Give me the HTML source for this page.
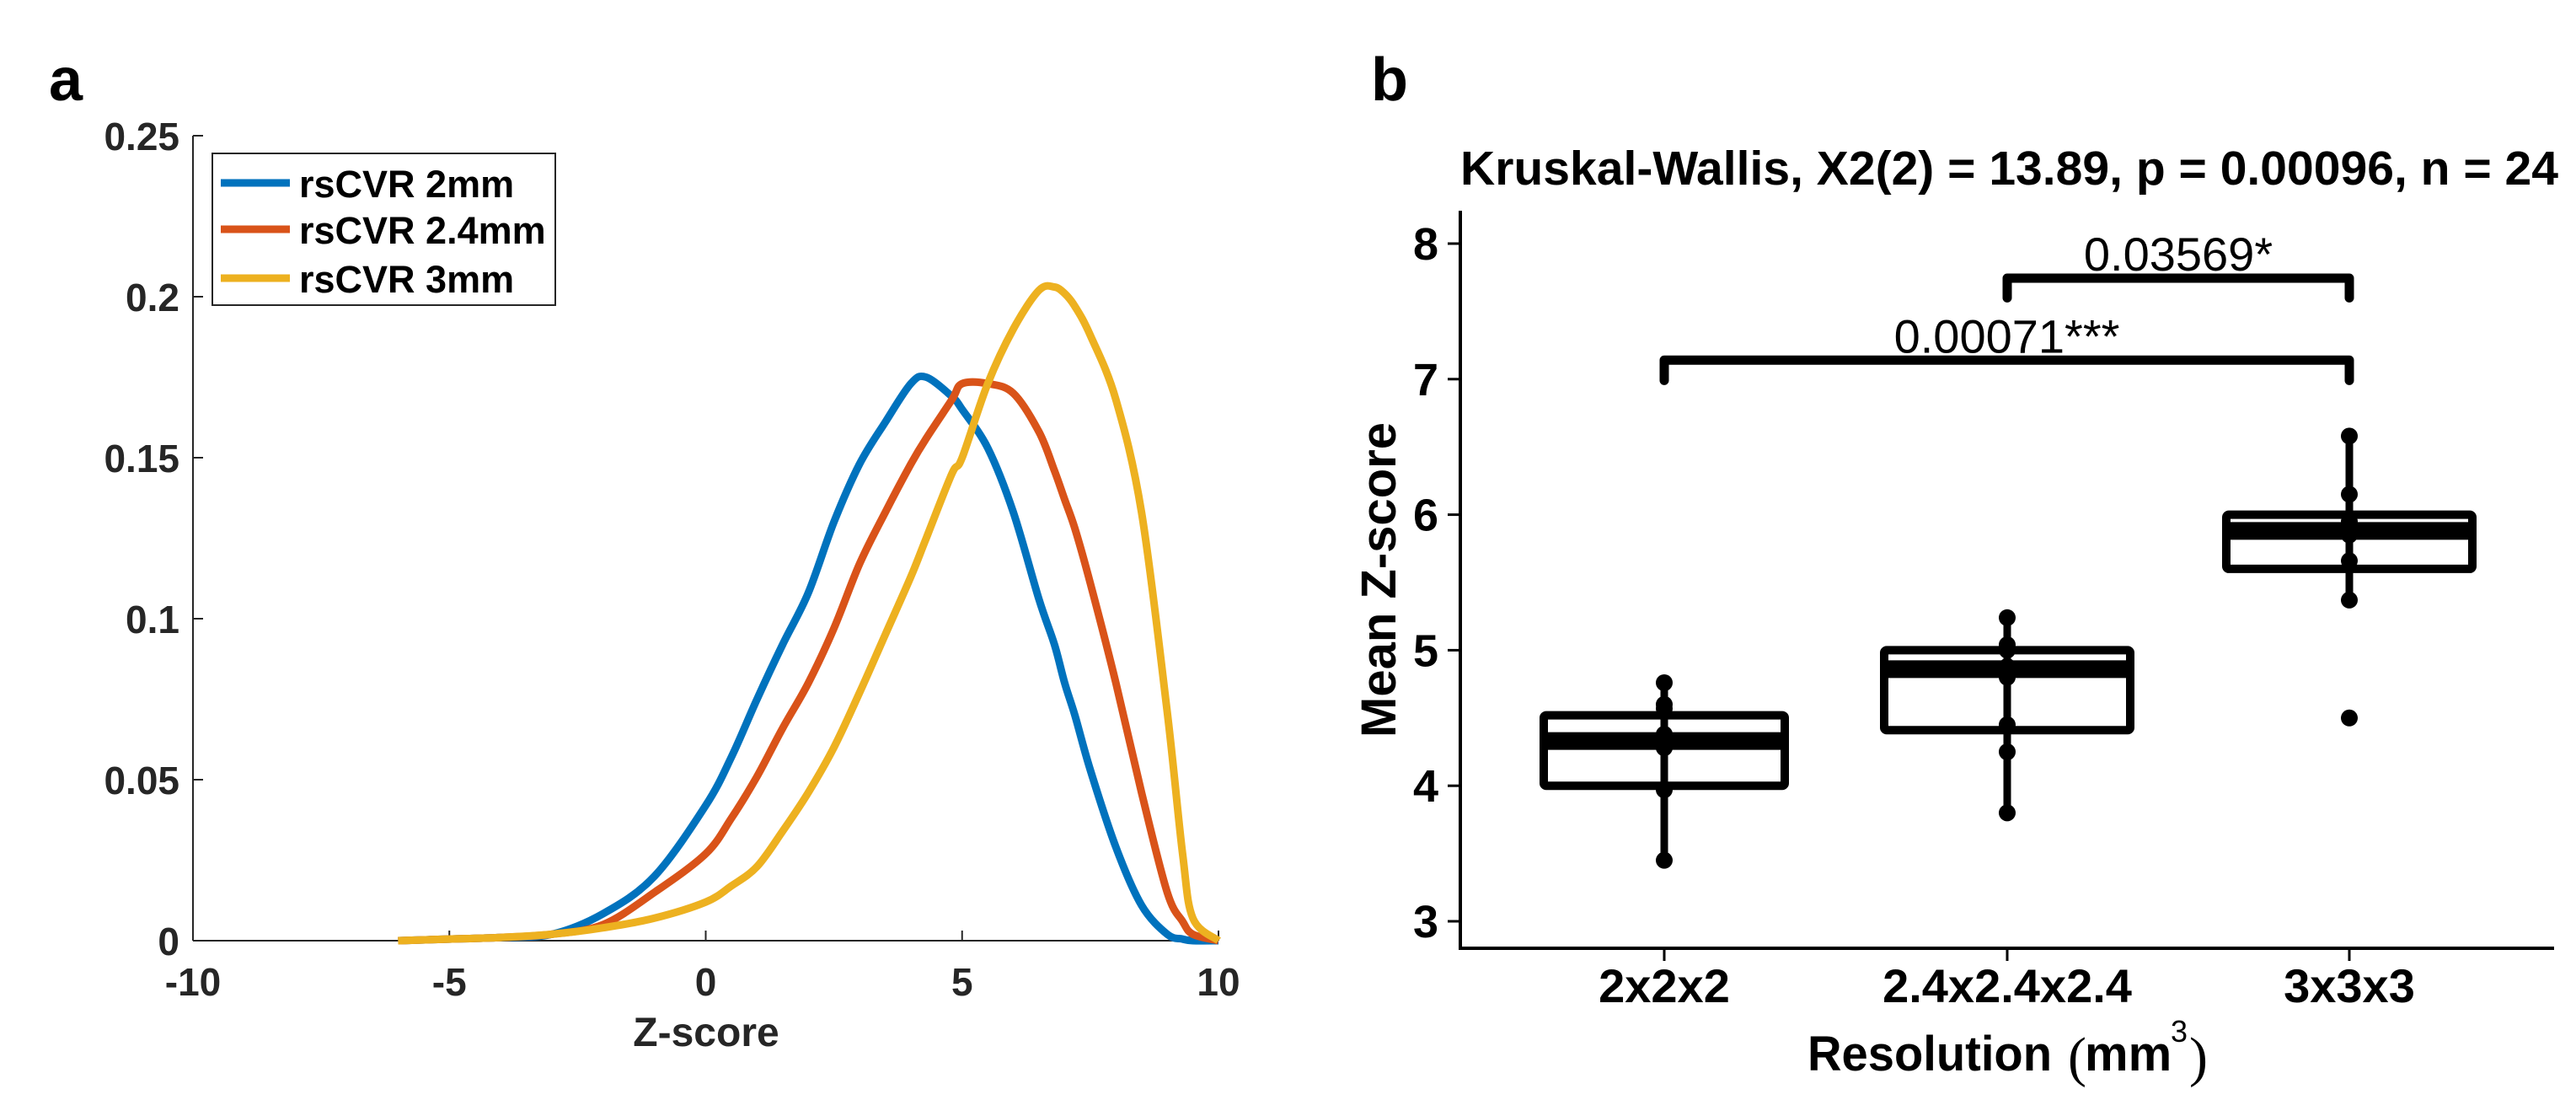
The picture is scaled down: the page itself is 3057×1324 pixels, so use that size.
<!DOCTYPE html>
<html><head><meta charset="utf-8"><style>
html,body{margin:0;padding:0;background:#fff;}
svg{display:block;font-family:"Liberation Sans",Arial,sans-serif;}
</style></head><body>
<svg id="fig" width="3057" height="1324" viewBox="0 0 3057 1324" xmlns="http://www.w3.org/2000/svg">
<text x="58" y="119" font-size="72" font-weight="bold" fill="#000">a</text>
<text x="1627" y="119" font-size="72" font-weight="bold" fill="#000">b</text>
<g id="pa"></g>
<g id="pb"></g>
</svg>
<script>
// ---------- Panel A data ----------
const zGrid = [-6,-5,-4,-3,-2,-1,0,0.5,1,1.5,2,2.5,3,3.5,4,4.3,4.8,5,5.5,6,6.5,6.8,7,7.2,7.5,8,8.5,9,9.3,9.5,10];
const s2mm  = [0,0.0005,0.001,0.002,0.0084,0.02,0.042,0.057,0.075,0.092,0.108,0.13,0.148,0.161,0.173,0.175,0.169,0.165,0.153,0.133,0.106,0.092,0.08,0.07,0.053,0.029,0.011,0.002,0.0005,0,0];
const s24mm = [0,0.0005,0.001,0.002,0.005,0.015,0.027,0.038,0.051,0.066,0.08,0.097,0.117,0.133,0.148,0.156,0.168,0.173,0.173,0.170,0.158,0.146,0.137,0.128,0.111,0.08,0.046,0.015,0.006,0.002,0];
const s3mm  = [0,0.0005,0.001,0.002,0.004,0.007,0.012,0.017,0.023,0.034,0.046,0.06,0.077,0.095,0.113,0.125,0.145,0.150,0.173,0.19,0.202,0.203,0.201,0.197,0.188,0.168,0.133,0.071,0.027,0.007,0];
const seriesNames = ["rsCVR 2mm","rsCVR 2.4mm","rsCVR 3mm"];
const seriesColors = ["#0072BD","#D95319","#EDB120"];
const xTicksA = [-10,-5,0,5,10];
const yTicksA = [0,0.05,0.1,0.15,0.2,0.25];
const yTickLabelsA = ["0","0.05","0.1","0.15","0.2","0.25"];

// ---------- Panel B data ----------
const cats = ["2x2x2","2.4x2.4x2.4","3x3x3"];
const q1 = [4.0,4.41,5.6];
const q3 = [4.52,5.0,6.0];
const med = [4.33,4.86,5.88];
const whLo = [3.45,3.8,5.37];
const whHi = [4.76,5.24,6.58];
const pts0 = [3.45,3.97,4.28,4.35,4.38,4.57,4.6,4.76];
const pts1 = [3.8,4.25,4.45,4.8,4.88,5.0,5.04,5.24];
const pts2 = [4.5,5.37,5.66,5.85,5.95,6.15,6.58,5.9];
const yTicksB = [3,4,5,6,7,8];
const brackets = [[0,2,7.14,6.99,"0.00071***"],[1,2,7.745,7.6,"0.03569*"]];

const NS="http://www.w3.org/2000/svg";
function mk(parent,tag,attrs,text){const e=document.createElementNS(NS,tag);for(const k in attrs)e.setAttribute(k,attrs[k]);if(text!==undefined)e.textContent=text;parent.appendChild(e);return e;}
function smoothPath(P){
  let d='M'+P[0][0].toFixed(1)+' '+P[0][1].toFixed(1);
  for(let i=0;i<P.length-1;i++){
    const p0=P[Math.max(0,i-1)],p1=P[i],p2=P[i+1],p3=P[Math.min(P.length-1,i+2)];
    const c1x=p1[0]+(p2[0]-p0[0])/6,c1y=p1[1]+(p2[1]-p0[1])/6;
    const c2x=p2[0]-(p3[0]-p1[0])/6,c2y=p2[1]-(p3[1]-p1[1])/6;
    d+=` C${c1x.toFixed(1)} ${c1y.toFixed(1)} ${c2x.toFixed(1)} ${c2y.toFixed(1)} ${p2[0].toFixed(1)} ${p2[1].toFixed(1)}`;
  }
  return d;
}

// Panel A
const pa=document.getElementById('pa');
const xA=v=>229+(v+10)*(1446-229)/20;
const yA=v=>1116-v*(1116-161)/0.25;
let e;
e=mk(pa,'line',{x1:229,y1:yA(0.25),x2:229,y2:1116,stroke:'#262626','stroke-width':2});


e=mk(pa,'line',{x1:229,y1:1116,x2:1446,y2:1116,stroke:'#262626','stroke-width':2});


xTicksA.forEach(t=>{
  mk(pa,'line',{x1:xA(t),y1:1116,x2:xA(t),y2:1104,stroke:'#262626','stroke-width':2});
  e=mk(pa,'text',{x:xA(t),y:1181,'font-size':46,'font-weight':'bold',fill:'#262626','text-anchor':'middle'},String(t));
  
  
});
yTicksA.forEach((t,i)=>{
  mk(pa,'line',{x1:229,y1:yA(t),x2:241,y2:yA(t),stroke:'#262626','stroke-width':2});
  e=mk(pa,'text',{x:213,y:yA(t)+17,'font-size':46,'font-weight':'bold',fill:'#262626','text-anchor':'end'},yTickLabelsA[i]);
  
  
});
e=mk(pa,'text',{x:838,y:1241,'font-size':48,'font-weight':'bold',fill:'#262626','text-anchor':'middle'},'Z-score');


[s2mm,s24mm,s3mm].forEach((s,si)=>{
  const P=zGrid.map((z,i)=>[xA(z),yA(s[i])]);
  e=mk(pa,'path',{d:smoothPath(P),fill:'none',stroke:seriesColors[si],'stroke-width':9,'stroke-linejoin':'round'});
  
  
});
e=mk(pa,'rect',{x:252,y:182,width:407,height:180,fill:'#fff',stroke:'#262626','stroke-width':2});


const legY=[217,272,330];
seriesNames.forEach((n,i)=>{
  mk(pa,'line',{x1:262,y1:legY[i],x2:344,y2:legY[i],stroke:seriesColors[i],'stroke-width':9});
  e=mk(pa,'text',{x:355,y:legY[i]+17,'font-size':45,'font-weight':'bold',fill:'#000'},n);
  
  
});

// Panel B
const pb=document.getElementById('pb');
const xB=i=>[1975,2382,2788][i];
const yB=v=>289+(8-v)*160.8;
e=mk(pb,'line',{x1:1733,y1:250,x2:1733,y2:1127,stroke:'#000','stroke-width':4});


e=mk(pb,'line',{x1:1731,y1:1125,x2:3031,y2:1125,stroke:'#000','stroke-width':4});


yTicksB.forEach(t=>{
  mk(pb,'line',{x1:1718,y1:yB(t),x2:1733,y2:yB(t),stroke:'#000','stroke-width':3});
  e=mk(pb,'text',{x:1707,y:yB(t)+19,'font-size':54,'font-weight':'bold',fill:'#000','text-anchor':'end'},String(t));
  
  
});
const boxW=[286,292,292];
cats.forEach((c,i)=>{
  mk(pb,'line',{x1:xB(i),y1:1125,x2:xB(i),y2:1140,stroke:'#000','stroke-width':3});
  e=mk(pb,'text',{x:xB(i),y:1189,'font-size':56,'font-weight':'bold',fill:'#000','text-anchor':'middle'},c);
  
  
  e=mk(pb,'line',{x1:xB(i),y1:yB(whLo[i]),x2:xB(i),y2:yB(whHi[i]),stroke:'#000','stroke-width':9});
  
  
  e=mk(pb,'rect',{x:xB(i)-boxW[i]/2,y:yB(q3[i]),width:boxW[i],height:yB(q1[i])-yB(q3[i]),fill:'none',stroke:'#000','stroke-width':10,rx:3});
  
  
  e=mk(pb,'line',{x1:xB(i)-boxW[i]/2,y1:yB(med[i]),x2:xB(i)+boxW[i]/2,y2:yB(med[i]),stroke:'#000','stroke-width':21});
  
  
});
[pts0,pts1,pts2].forEach((p,i)=>p.forEach(v=>{
  e=mk(pb,'circle',{cx:xB(i),cy:yB(v),r:10,fill:'#000'});
  
  
}));
brackets.forEach(b=>{
  const x1=xB(b[0]),x2=xB(b[1]),yt=yB(b[2]),yb=yB(b[3]);
  e=mk(pb,'path',{d:`M${x1} ${yb} L${x1} ${yt} L${x2} ${yt} L${x2} ${yb}`,fill:'none',stroke:'#000','stroke-width':11,'stroke-linecap':'round','stroke-linejoin':'round'});
  
  
  e=mk(pb,'text',{x:(x1+x2)/2,y:yt-9,'font-size':56,fill:'#000','text-anchor':'middle'},b[4]);
  
  
});
e=mk(pb,'text',{x:1733,y:219,'font-size':57,'font-weight':'bold',fill:'#000',textLength:1303,lengthAdjust:'spacingAndGlyphs'},'Kruskal-Wallis, X2(2) = 13.89, p = 0.00096, n = 24');


e=mk(pb,'text',{x:0,y:0,'font-size':58,'font-weight':'bold',fill:'#000','text-anchor':'middle',transform:'translate(1656,688) rotate(-90)'},'Mean Z-score');


e=mk(pb,'text',{x:2145,y:1270,'font-size':58,'font-weight':'bold',fill:'#000',textLength:290,lengthAdjust:'spacingAndGlyphs'},'Resolution');


e=mk(pb,'text',{x:2454,y:1276,'font-size':66,fill:'#000','font-family':'"Liberation Serif",serif'},'(');
e=mk(pb,'text',{x:2474,y:1270,'font-size':58,'font-weight':'bold',fill:'#000'},'mm');


e=mk(pb,'text',{x:2576,y:1236,'font-size':36,fill:'#000'},'3');
e=mk(pb,'text',{x:2598,y:1276,'font-size':66,fill:'#000','font-family':'"Liberation Serif",serif'},')');
</script>
</body></html>
